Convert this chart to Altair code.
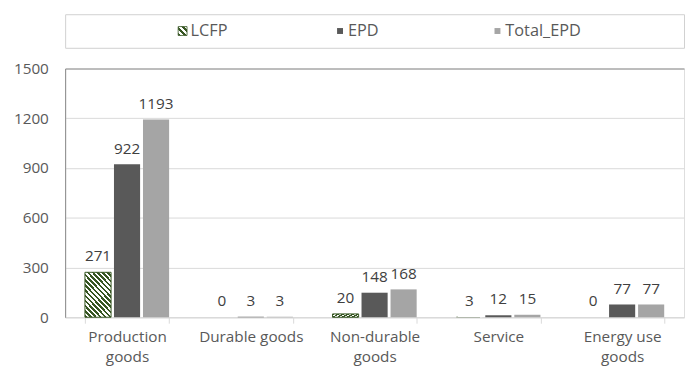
import altair as alt
import pandas as pd

# Product categories and the three series per category
categories = ["Production goods", "Durable goods", "Non-durable goods", "Service", "Energy use goods"]
series_names = ["LCFP", "EPD", "Total_EPD"]
lcfp = [271, 0, 20, 3, 0]
epd = [922, 3, 148, 12, 77]
total_epd = [1193, 3, 168, 15, 77]
y_ticks = [0, 300, 600, 900, 1200, 1500]

rows = []
for name, vals in zip(series_names, [lcfp, epd, total_epd]):
    for cat, v in zip(categories, vals):
        rows.append({"category": cat, "series": name, "value": v})
df = pd.DataFrame(rows)
legend_df = pd.DataFrame({"series": series_names})

GREEN = "#375623"
DARK = "#595959"
LIGHT = "#a5a5a5"
FONT = "Open Sans"
FS = 15.5


def hatch(periods, x1, y1, x2, y2):
    """Diagonal green/white stripes built from a hard-stop linear gradient."""
    stops = []
    for k in range(periods):
        a, m, b = k / periods, (k + 0.5) / periods, (k + 1) / periods
        stops += [
            alt.GradientStop(offset=a, color=GREEN),
            alt.GradientStop(offset=m, color=GREEN),
            alt.GradientStop(offset=m, color="#ffffff"),
            alt.GradientStop(offset=b, color="#ffffff"),
        ]
    return alt.LinearGradient(gradient="linear", stops=stops, x1=x1, y1=y1, x2=x2, y2=y2)


bar_hatch = hatch(14, 0, 1, 0.72, -0.17)
swatch_hatch = hatch(3, 0, 1, 1, 0)

W = 627
H = 252

x_enc = alt.X(
    "category:N",
    sort=categories,
    scale=alt.Scale(domain=categories, paddingInner=0.32, paddingOuter=0.16),
    axis=alt.Axis(
        title=None,
        labelAngle=0,
        tickBand="extent",
        tickSize=6,
        tickColor="#d9d9d9",
        domainColor="#d9d9d9",
        labelFont=FONT,
        labelFontSize=FS,
        labelColor=DARK,
        labelPadding=7,
        labelLineHeight=20,
        labelExpr="datum.label == 'Durable goods' ? datum.label : split(replace(datum.label, ' goods', '|goods'), '|')",
    ),
)
xo_enc = alt.XOffset(
    "series:N", sort=series_names,
    scale=alt.Scale(domain=series_names, paddingInner=0.1, paddingOuter=0),
)
y_enc = alt.Y(
    "value:Q",
    scale=alt.Scale(domain=[0, 1500], nice=False),
    axis=alt.Axis(
        title=None,
        values=y_ticks,
        format="d",
        ticks=False,
        domainColor="#898989",
        gridColor=alt.condition("datum.value == 1500", alt.value("#898989"), alt.value("#d9d9d9")),
        labelFont=FONT,
        labelFontSize=FS,
        labelColor=DARK,
        labelPadding=17,
    ),
)

base = alt.Chart(df).encode(x=x_enc, xOffset=xo_enc, y=y_enc)

solid_bars = base.transform_filter("datum.series != 'LCFP'").mark_bar().encode(
    color=alt.Color(
        "series:N",
        scale=alt.Scale(domain=["EPD", "Total_EPD"], range=[DARK, LIGHT]),
        legend=None,
    )
)
hatched_bars = base.transform_filter("datum.series == 'LCFP'").mark_bar(
    fill=bar_hatch, stroke=GREEN
).encode(
    strokeWidth=alt.condition("datum.value >= 10", alt.value(1), alt.value(0))
)
value_labels = base.mark_text(
    baseline="alphabetic", dy=-11, font=FONT, fontSize=FS, color="#404040"
).encode(text="value:Q")

main = alt.layer(solid_bars, hatched_bars, value_labels).properties(width=W, height=H)

# Legend strip drawn as its own small panel with a light frame
lx = alt.X(
    "series:N",
    sort=series_names,
    scale=alt.Scale(type="point", domain=series_names, range=[119, 438], padding=0),
    axis=None,
)
leg_base = alt.Chart(legend_df).encode(x=lx)
leg_hatch = leg_base.transform_filter("datum.series == 'LCFP'").mark_square(
    size=81, fill=swatch_hatch, stroke=GREEN, strokeWidth=0.8, opacity=1
)
leg_solid = leg_base.transform_filter("datum.series != 'LCFP'").mark_square(
    size=36, opacity=1
).encode(
    color=alt.Color(
        "series:N",
        scale=alt.Scale(domain=["EPD", "Total_EPD"], range=[DARK, LIGHT]),
        legend=None,
    )
)
leg_text = leg_base.mark_text(
    align="left", baseline="middle", dx=8, font=FONT, fontSize=16.5, color=DARK
).encode(text="series:N")

legend = alt.layer(leg_hatch, leg_solid, leg_text).properties(
    width=W, height=34, view=alt.ViewBackground(stroke="#d0d0d0", strokeWidth=1)
)

chart = (
    alt.vconcat(legend, main, spacing=21, bounds="flush")
    .properties(padding={"left": 13, "top": 11, "right": 0, "bottom": 0})
    .configure_view(strokeWidth=0)
    .configure(font=FONT, background="white")
)

chart.save("out.html", embed_options={"renderer": "svg", "actions": False})
